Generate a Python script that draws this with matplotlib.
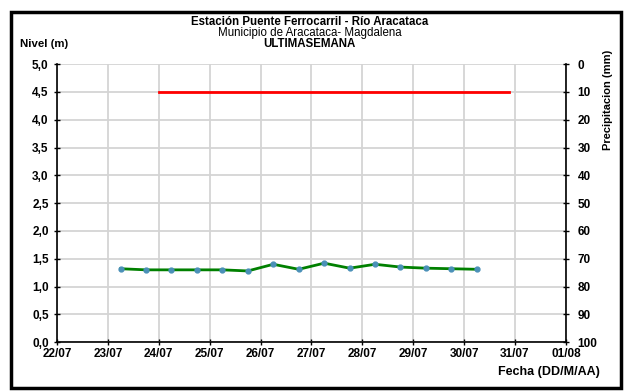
import matplotlib
matplotlib.use("Agg")
import matplotlib.pyplot as plt
import matplotlib.dates as mdates
from matplotlib.patches import Rectangle
from matplotlib.ticker import FuncFormatter
import pandas as pd

# nivel (m), lecturas 06:00 y 18:00
fechas = ["2012-07-23 06:00", "2012-07-23 18:00", "2012-07-24 06:00", "2012-07-24 18:00",
          "2012-07-25 06:00", "2012-07-25 18:00", "2012-07-26 06:00", "2012-07-26 18:00",
          "2012-07-27 06:00", "2012-07-27 18:00", "2012-07-28 06:00", "2012-07-28 18:00",
          "2012-07-29 06:00", "2012-07-29 18:00", "2012-07-30 06:00"]
nivel = [1.32, 1.30, 1.30, 1.30, 1.30, 1.28, 1.40, 1.31, 1.42, 1.33, 1.40, 1.35, 1.33, 1.32, 1.31]

# linea roja (eje precipitacion)
fechas_roja = ["2012-07-24 00:00", "2012-07-30 21:00"]
precip_roja = [10, 10]

xlim = ["2012-07-22", "2012-08-01"]

plt.rcParams['font.family'] = ['Liberation Sans', 'DejaVu Sans']

fig = plt.figure(figsize=(6.26, 3.91), dpi=100)
ax = fig.add_axes([0.091, 0.125, 0.813, 0.711])

x = pd.to_datetime(fechas)
ax.plot(x, nivel, color="#008000", lw=2, marker="o", ms=3.5,
        mfc="#4a90b8", mec="#4a90b8", zorder=3)

ax.set_xlim(pd.to_datetime(xlim[0]), pd.to_datetime(xlim[1]))
ax.set_ylim(0, 5)
ax.set_yticks([i * 0.5 for i in range(11)])
ax.yaxis.set_major_formatter(FuncFormatter(lambda v, p: f"{v:.1f}".replace(".", ",")))
ax.xaxis.set_major_locator(mdates.DayLocator())
ax.xaxis.set_major_formatter(mdates.DateFormatter("%d/%m"))
ax.grid(True, color="#d4d4d4", lw=1.3)
ax.set_axisbelow(True)
ax.spines["top"].set_visible(False)
ax.spines["right"].set_visible(False)
for s in ("left", "bottom"):
    ax.spines[s].set_linewidth(1.2)
ax.tick_params(axis="both", labelsize=8.5, direction="inout", length=5, width=1)
ax.tick_params(axis="x", pad=2)
for lab in ax.get_xticklabels() + ax.get_yticklabels():
    lab.set_fontweight("bold")

ax2 = ax.twinx()
ax2.plot(pd.to_datetime(fechas_roja), precip_roja, color="#ff0000", lw=2)
ax2.set_ylim(100, 0)
ax2.set_yticks(range(0, 101, 10))
for s in ("top", "left", "bottom"):
    ax2.spines[s].set_visible(False)
ax2.spines["right"].set_linewidth(1.2)
ax2.tick_params(axis="y", labelsize=8.5, direction="inout", length=5, width=1, pad=6)
for lab in ax2.get_yticklabels():
    lab.set_fontweight("bold")

fig.text(0.495, 0.944, "Estación Puente Ferrocarril - Río Aracataca", ha="center", va="center",
         fontsize=8.3, fontweight="bold")
fig.text(0.495, 0.916, "Municipio de Aracataca- Magdalena", ha="center", va="center", fontsize=8.3)
fig.text(0.495, 0.887, "ULTIMASEMANA", ha="center", va="center", fontsize=8.3, fontweight="bold")
fig.text(0.032, 0.887, "Nivel (m)", ha="left", va="center", fontsize=8.2, fontweight="bold")
fig.text(0.972, 0.745, "Precipitacion (mm)", ha="center", va="center", rotation=90,
         fontsize=8, fontweight="bold")
fig.text(0.958, 0.048, "Fecha (DD/M/AA)", ha="right", va="center", fontsize=9, fontweight="bold")

fig.patches.append(Rectangle((0.018, 0.008), 0.974, 0.962, transform=fig.transFigure,
                             fill=False, ec="black", lw=2.5))

fig.savefig("out.png", dpi=100)
